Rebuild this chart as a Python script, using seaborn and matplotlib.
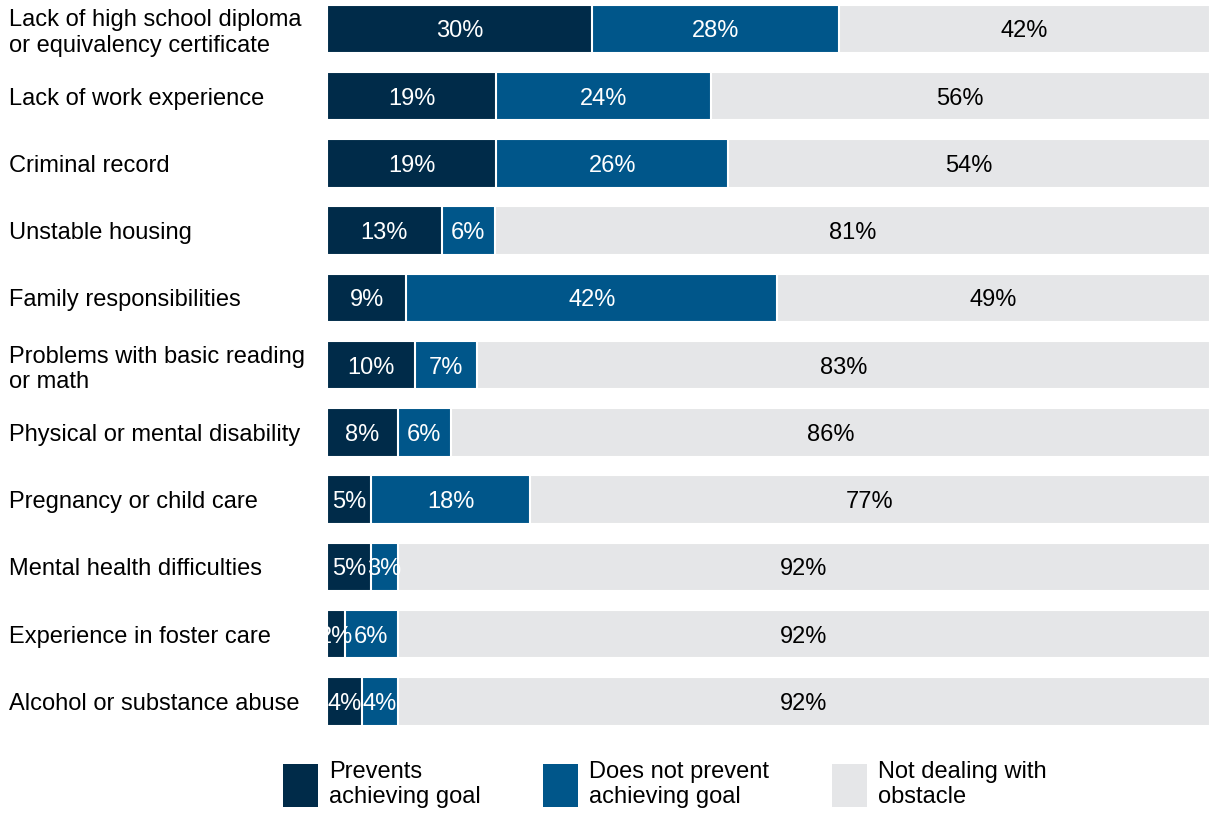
import numpy as np
import pandas as pd
import matplotlib
matplotlib.use("Agg")
import matplotlib.pyplot as plt
import seaborn as sns
from matplotlib.patches import Patch

categories = [
    "Lack of high school diploma\nor equivalency certificate",
    "Lack of work experience",
    "Criminal record",
    "Unstable housing",
    "Family responsibilities",
    "Problems with basic reading\nor math",
    "Physical or mental disability",
    "Pregnancy or child care",
    "Mental health difficulties",
    "Experience in foster care",
    "Alcohol or substance abuse",
]
prevents = [30, 19, 19, 13, 9, 10, 8, 5, 5, 2, 4]
not_prevent = [28, 24, 26, 6, 42, 7, 6, 18, 3, 6, 4]
not_dealing = [42, 56, 54, 81, 49, 83, 86, 77, 92, 92, 92]
series_names = ["Prevents\nachieving goal", "Does not prevent\nachieving goal", "Not dealing with\nobstacle"]
colors = ["#002B49", "#00568A", "#E5E6E8"]

sns.set_theme(style="white")
plt.rcParams['font.family'] = ['Liberation Sans', 'DejaVu Sans']
plt.rcParams['text.color'] = 'black'

fig = plt.figure(figsize=(12.1, 8.16), dpi=100)
ax = fig.add_axes([327/1210, 81/816, 883/1210, 735/816])

df = pd.DataFrame({"category": categories, "p": prevents, "n": not_prevent, "o": not_dealing})
tot = df[["p", "n", "o"]].sum(axis=1)
df["w_p"] = df.p / tot * 100
df["w_pn"] = (df.p + df.n) / tot * 100
df["w_all"] = (df.p + df.n + df.o) / tot * 100

for col, c in [("w_all", colors[2]), ("w_pn", colors[1]), ("w_p", colors[0])]:
    sns.barplot(data=df, x=col, y="category", orient="h", color=c, width=0.72,
                edgecolor="white", linewidth=1.5, saturation=1, errorbar=None, ax=ax)

fs = 17
for i, row in df.iterrows():
    wp = row.w_p
    wn = row.w_pn - row.w_p
    wo = row.w_all - row.w_pn
    ax.text(wp / 2, i, f"{row.p}%", ha="center", va="center_baseline", color="white", fontsize=fs)
    ax.text(wp + wn / 2, i, f"{row.n}%", ha="center", va="center_baseline", color="white", fontsize=fs)
    ax.text(row.w_pn + wo / 2, i, f"{row.o}%", ha="center", va="center_baseline", color="black", fontsize=fs)

ax.set_xlim(0, 100)
ax.set_ylim(10.5, -0.43)
ax.set_xticks([])
ax.set_xlabel("")
ax.set_ylabel("")
for s in ax.spines.values():
    s.set_visible(False)
ax.tick_params(axis="y", length=0, pad=229, labelsize=fs, labelcolor="black")
plt.setp(ax.get_yticklabels(), ha="left")

handles = [Patch(facecolor=c, edgecolor="none", label=n) for c, n in zip(colors, series_names)]
fig.legend(handles=handles, loc="lower left", bbox_to_anchor=(283/1210, 8/816), ncol=3,
           frameon=False, fontsize=fs, handlelength=1.48, handleheight=2.43,
           handletextpad=0.47, columnspacing=2.65, borderpad=0, borderaxespad=0,
           labelcolor="black")

fig.savefig("out.png", dpi=100)
